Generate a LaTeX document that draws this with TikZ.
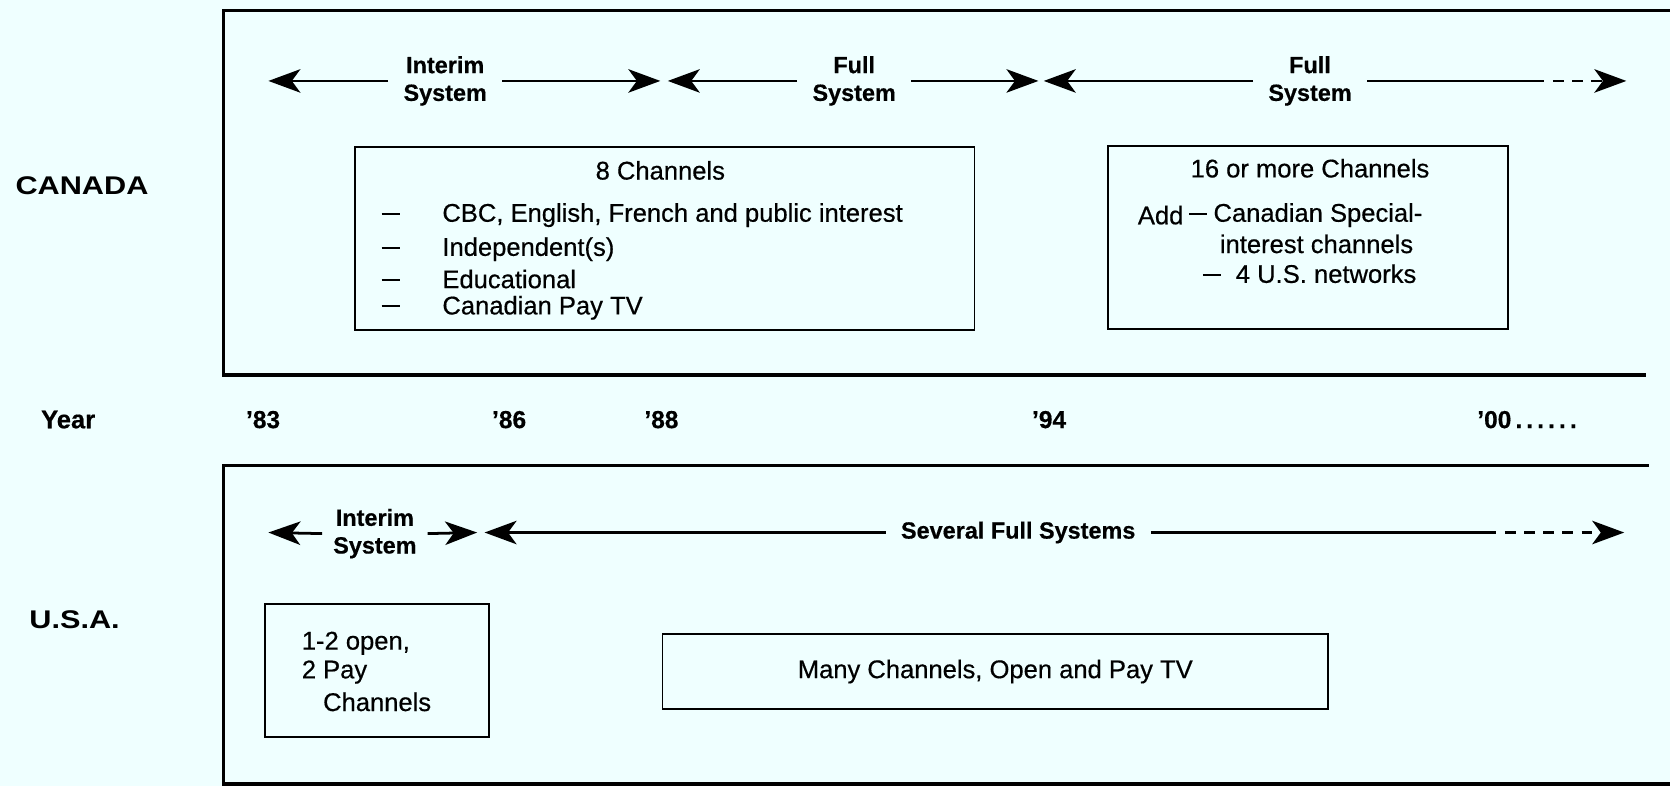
\documentclass[tikz,border=0pt]{standalone}
\usepackage{fontspec}
\setmainfont{Liberation Sans}[FakeBold=0.5]
\newfontfamily\widefont{Liberation Sans}[FakeStretch=1.2]
\usetikzlibrary{arrows.meta,positioning}
\definecolor{paper}{RGB}{239,255,255}
\newcommand{\itemdash}{\rule[3.4pt]{8.5pt}{0.8pt}}
\newcommand{\dashitem}[1]{\makebox[28.5pt][l]{\itemdash}#1}

\begin{document}
\begin{tikzpicture}[x=0.5pt,y=-0.5pt,
    frame/.style={line width=1.6pt},
    box/.style={draw,line width=0.9pt,inner sep=0pt},
    period/.style={font=\bfseries\fontsize{11}{13}\selectfont,align=center,inner xsep=7pt},
    country/.style={font=\widefont\bfseries\fontsize{12}{14}\selectfont},
    yr/.style={font=\bfseries\fontsize{11.5}{13}\selectfont},
    txt/.style={font=\fontsize{12}{13.5}\selectfont,inner sep=0pt},
    span/.style={line width=1.3pt,-{Stealth[length=15pt,width=11pt,inset=4pt]}},
    fade/.style={span,dash pattern=on 5pt off 4pt}]

    % Paper
    \fill[paper] (0,0) rectangle (1568,738);
    \useasboundingbox (0,0) rectangle (1568,738);

    % Frames (open on the right)
    \draw[frame] (1568,10) -- (210,10) -- (210,352) -- (1545,352);
    \draw[frame] (1548,437) -- (210,437) -- (210,736) -- (1568,736);

    % Row labels
    \node[country] (canada) at (77,174) {CANADA};
    \node[country,font=\bfseries\fontsize{12}{14}\selectfont] (year) at (64,394) {Year};
    \node[country] (usa) at (70,582) {U.S.A.};

    % Years
    \node[yr] (y83) at (247,394) {’83};
    \node[yr] (y86) at (478,394) {’86};
    \node[yr] (y88) at (621,394) {’88};
    \node[yr] (y94) at (985,394) {’94};
    \node[yr,anchor=west] (y00) at (1380,394) {’00\,.\,.\,.\,.\,.\,.};

    % Canada periods
    \coordinate (c1a) at (252,76);
    \coordinate (c1b) at (620,76);
    \node[period] (cint) at (418,76) {Interim\\System};
    \draw[span] (cint.west) -- (c1a);
    \draw[span] (cint.east) -- (c1b);

    \coordinate (c2a) at (627,76);
    \coordinate (c2b) at (975,76);
    \node[period] (cfull) at (802,76) {Full\\System};
    \draw[span] (cfull.west) -- (c2a);
    \draw[span] (cfull.east) -- (c2b);

    \coordinate (c3a) at (980,76);
    \coordinate (c3m) at (1440,76);
    \coordinate (c3b) at (1527,76);
    \node[period] (clast) at (1230,76) {Full\\System};
    \draw[span] (clast.west) -- (c3a);
    \draw[line width=1.3pt] (clast.east) -- (c3m);
    \draw[fade] (c3m) -- (c3b);

    % Canada boxes
    \node[box,minimum width=291pt,minimum height=86pt] (cbox) at (624,224) {};
    \node[txt] (c8) at (620,160) {8 Channels};
    \node[txt,anchor=west] (cbc) at (358,202) {\dashitem{CBC, English, French and public interest}};
    \node[txt,anchor=west] (cind) at (358,234) {\dashitem{Independent(s)}};
    \node[txt,anchor=west] (cedu) at (358,262) {\dashitem{Educational}};
    \node[txt,anchor=west] (cpay) at (358,289) {\dashitem{Canadian Pay TV}};

    \node[box,minimum width=188pt,minimum height=86pt] (cbox2) at (1228,223) {};
    \node[txt] (c16) at (1230,158) {16 or more Channels};
    \node[txt,anchor=west] (cadd) at (1068,202) {Add};
    \node[txt,anchor=west] (cspec) at (1116,202) {\itemdash\hspace{3pt}Canadian Special-};
    \node[txt,anchor=west] (cintr) at (1145,229) {interest channels};
    \node[txt,anchor=west] (cnet) at (1129,257) {\itemdash\hspace{7pt}4 U.S. networks};

    % U.S.A. periods
    \coordinate (u1a) at (252,500);
    \coordinate (u1b) at (448,500);
    \node[period,inner xsep=5pt] (uint) at (352,501) {Interim\\System};
    \draw[span] (uint.west) -- (u1a);
    \draw[span] (uint.east) -- (u1b);

    \coordinate (u2a) at (455,500);
    \coordinate (u2m) at (1395,500);
    \coordinate (u2b) at (1525,500);
    \node[period] (usev) at (956,500) {Several Full Systems};
    \draw[span] (usev.west) -- (u2a);
    \draw[line width=1.3pt] (usev.east) -- (u2m);
    \draw[fade] (u2m) -- (u2b);

    % U.S.A. boxes
    \node[box,minimum width=105pt,minimum height=62.5pt] (ubox) at (354,629.5) {};
    \node[txt,anchor=west] (uopen) at (283,604) {1-2 open,};
    \node[txt,anchor=west] (upay) at (283,631) {2 Pay};
    \node[txt,anchor=west] (uchan) at (303,659) {Channels};

    \node[box,txt,minimum width=312.5pt,minimum height=35.5pt] (ubox2) at (934.5,630.5) {Many Channels, Open and Pay TV};
\end{tikzpicture}
\end{document}
